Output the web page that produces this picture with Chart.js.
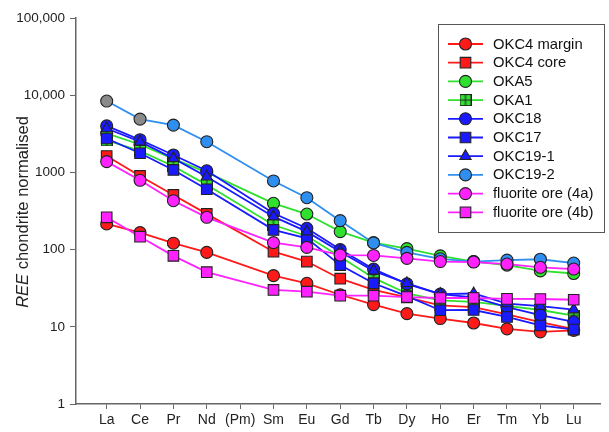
<!DOCTYPE html>
<html>
<head>
<meta charset="utf-8">
<script src="https://cdn.jsdelivr.net/npm/chart.js@4.4.0/dist/chart.umd.min.js"></script>
<style>
  html, body { margin: 0; padding: 0; background: #fff; }
</style>
</head>
<body>
<canvas id="reeChart" width="609" height="432"></canvas>
<script>
// REE elements (x axis), Pm has no data
const elements = ['La', 'Ce', 'Pr', 'Nd', '(Pm)', 'Sm', 'Eu', 'Gd', 'Tb', 'Dy', 'Ho', 'Er', 'Tm', 'Yb', 'Lu'];
const yTicks = [1, 10, 100, 1000, 10000, 100000];
const yTickLabels = ['1', '10', '100', '1000', '10,000', '100,000'];

const seriesNames = ['OKC4 margin', 'OKC4 core', 'OKA5', 'OKA1', 'OKC18', 'OKC17', 'OKC19-1', 'OKC19-2', 'fluorite ore (4a)', 'fluorite ore (4b)'];

// chondrite normalised values
const okc4Margin = [215, 166, 121, 92, null, 46, 36.6, 26, 19.4, 14.8, 12.8, 11.2, 9.4, 8.6, 9];
const okc4Core   = [1630, 900, 510, 290, null, 94, 70, 42, 30, 24, 19, 18, 14.5, 11.5, 9.3];
const oka5       = [3200, 2300, 1500, 1000, null, 398, 289, 171, 123, 103, 83, 70, 63, 53, 49];
const oka1       = [2600, 1900, 1200, 690, null, 208, 150, 81, 43, 27, 22, 21, 18.7, 16.5, 14];
const okc18      = [4000, 2650, 1680, 1050, null, 295, 189, 100, 56, 36, 26.5, 24, 18, 14.2, 11.6];
const okc17      = [2750, 1770, 1075, 605, null, 180, 140, 63, 36.6, 25, 16.4, 16.5, 13.4, 10.4, 9.2];
const okc19_1    = [3700, 2500, 1520, 880, null, 267, 171, 94, 53, 36.6, 26.5, 27, 20, 18.5, 16.7];
const okc19_2    = [8400, 4900, 4100, 2500, null, 775, 470, 237, 122, 92, 76, 70, 73, 75, 67];
const fluorite4a = [1380, 790, 430, 262, null, 123, 107, 85, 84, 77, 70, 69, 65, 59, 56];
const fluorite4b = [262, 147, 83, 51, null, 30, 28.5, 25.3, 25.3, 24.3, 23.6, 23.6, 23, 22.9, 22.4];

const seriesValues = [okc4Margin, okc4Core, oka5, oka1, okc18, okc17, okc19_1, okc19_2, fluorite4a, fluorite4b];

// green square with a cross grid (OKA1 marker)
function hatchedSquare(fill) {
    const c = document.createElement('canvas');
    c.width = 12; c.height = 12;
    const g = c.getContext('2d');
    g.fillStyle = fill;
    g.fillRect(0.5, 0.5, 11, 11);
    g.strokeStyle = '#222';
    g.lineWidth = 1;
    g.strokeRect(0.5, 0.5, 11, 11);
    g.beginPath();
    g.moveTo(6, 0.5); g.lineTo(6, 11.5);
    g.moveTo(0.5, 6); g.lineTo(11.5, 6);
    g.stroke();
    return c;
}

const RED = '#ff1a1a', GREEN = '#2fe02f', BLUE = '#1a1aff', LBLUE = '#2f8ff0', MAG = '#ff22ff';
const styles = [
    { line: RED,   fill: RED,   shape: 'circle',   r: 6 },
    { line: RED,   fill: RED,   shape: 'rect',     r: 7.5 },
    { line: GREEN, fill: GREEN, shape: 'circle',   r: 6 },
    { line: GREEN, fill: GREEN, shape: hatchedSquare(GREEN), r: 6 },
    { line: BLUE,  fill: BLUE,  shape: 'circle',   r: 6 },
    { line: BLUE,  fill: BLUE,  shape: 'rect',     r: 7.5 },
    { line: BLUE,  fill: BLUE,  shape: 'triangle', r: 6.5 },
    { line: LBLUE, fill: LBLUE, shape: 'circle',   r: 6 },
    { line: MAG,   fill: MAG,   shape: 'circle',   r: 6 },
    { line: MAG,   fill: MAG,   shape: 'rect',     r: 7.5 }
];

const datasets = seriesNames.map((name, i) => {
    const pts = seriesValues[i]
        .map((v, j) => ({ x: j, y: v }))
        .filter(p => p.y !== null);
    let fills = styles[i].fill;
    if (name === 'OKC19-2') {
        // La and Ce plotted grey in the original
        fills = pts.map((p, k) => k < 2 ? '#8a8a8a' : LBLUE);
    }
    return {
        label: name,
        data: pts,
        borderColor: styles[i].line,
        borderWidth: 1.8,
        pointStyle: styles[i].shape,
        pointRadius: styles[i].r,
        pointBackgroundColor: fills,
        pointBorderColor: '#222',
        pointBorderWidth: 1.1,
        showLine: true,
        fill: false,
        tension: 0,
        order: seriesNames.length - i
    };
});

// y axis title with italic REE
const yTitlePlugin = {
    id: 'yTitle',
    afterDraw(chart) {
        const ctx = chart.ctx;
        const a = 'REE', b = ' chondrite normalised';
        const f = '16.5px "Liberation Sans", Arial, sans-serif';
        ctx.save();
        ctx.translate(23, 212);
        ctx.rotate(-Math.PI / 2);
        ctx.fillStyle = '#222';
        ctx.textBaseline = 'middle';
        ctx.font = 'italic ' + f;
        const wa = ctx.measureText(a).width;
        ctx.font = f;
        const wb = ctx.measureText(b).width;
        const x = -(wa + wb) / 2;
        ctx.font = 'italic ' + f;
        ctx.fillText(a, x, 0);
        ctx.font = f;
        ctx.fillText(b, x + wa, 0);
        ctx.restore();
    }
};

// legend box with line + marker samples
const boxLegendPlugin = {
    id: 'boxLegend',
    afterDraw(chart) {
        const ctx = chart.ctx;
        ctx.save();
        ctx.fillStyle = '#fff';
        ctx.fillRect(438.5, 24.5, 166, 208);
        ctx.strokeStyle = '#555';
        ctx.lineWidth = 1;
        ctx.strokeRect(438.5, 24.5, 166, 208);
        ctx.font = '14.8px "Liberation Sans", Arial, sans-serif';
        ctx.textBaseline = 'middle';
        chart.data.datasets.forEach((ds, i) => {
            const y = 44 + i * 18.7;
            ctx.strokeStyle = ds.borderColor;
            ctx.lineWidth = 1.8;
            ctx.beginPath();
            ctx.moveTo(448, y);
            ctx.lineTo(483, y);
            ctx.stroke();
            ctx.fillStyle = styles[i].fill;
            ctx.strokeStyle = '#222';
            ctx.lineWidth = 1.1;
            Chart.helpers.drawPoint(ctx, {
                pointStyle: ds.pointStyle,
                radius: ds.pointRadius,
                borderWidth: 1.1,
                rotation: 0
            }, 465.5, y);
            ctx.fillStyle = '#111';
            ctx.fillText(ds.label, 493, y + 0.5);
        });
        ctx.restore();
    }
};

new Chart(document.getElementById('reeChart'), {
    type: 'line',
    data: { datasets: datasets },
    options: {
        responsive: false,
        animation: false,
        layout: { padding: { left: 0, top: 18, right: 4, bottom: 0 } },
        plugins: {
            legend: { display: false },
            tooltip: { enabled: false }
        },
        scales: {
            x: {
                type: 'linear',
                min: -0.92,
                max: 14.8,
                afterBuildTicks: axis => {
                    axis.ticks = elements.map((_, i) => ({ value: i }));
                },
                afterFit: scale => { scale.height = 28; },
                ticks: {
                    autoSkip: false,
                    maxRotation: 0,
                    padding: 3,
                    color: '#222',
                    font: { size: 14, family: '"Liberation Sans", Arial, sans-serif' },
                    callback: v => elements[v] !== undefined ? elements[v] : ''
                },
                grid: { display: true, drawOnChartArea: false, drawTicks: true, tickLength: 5, color: '#666', lineWidth: 1 },
                border: { display: true, color: '#666', width: 1.5 }
            },
            y: {
                type: 'logarithmic',
                min: 1,
                max: 100000,
                afterBuildTicks: axis => {
                    axis.ticks = yTicks.map(v => ({ value: v }));
                },
                afterFit: scale => { scale.width = 76; },
                ticks: {
                    autoSkip: false,
                    padding: 5,
                    color: '#222',
                    font: { size: 13.5, family: '"Liberation Sans", Arial, sans-serif' },
                    callback: v => {
                        const k = yTicks.indexOf(v);
                        return k >= 0 ? yTickLabels[k] : '';
                    }
                },
                grid: { display: true, drawOnChartArea: false, drawTicks: true, tickLength: 6, color: '#666', lineWidth: 1 },
                border: { display: true, color: '#666', width: 1.5 }
            }
        }
    },
    plugins: [yTitlePlugin, boxLegendPlugin]
});
</script>
</body>
</html>
